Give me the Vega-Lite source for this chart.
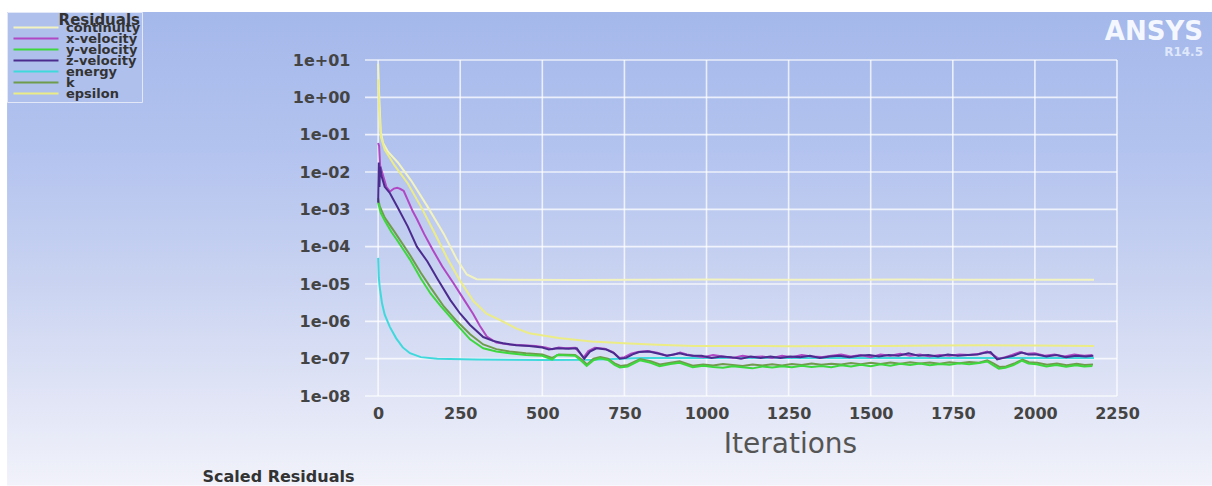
{
  "$schema": "https://vega.github.io/schema/vega-lite/v6.json",
  "width": 752,
  "height": 336,
  "autosize": {"type": "none"},
  "padding": {"left": 365, "top": 60, "right": 95, "bottom": 90},
  "background": "#ffffff",
  "title": {
    "text": "ANSYS",
    "subtitle": "R14.5",
    "anchor": "end",
    "frame": "group",
    "orient": "top",
    "dx": 86,
    "dy": 48,
    "offset": 2,
    "font": "DejaVu Sans",
    "fontSize": 26,
    "fontWeight": "bold",
    "color": "#f4f7ff",
    "subtitleFont": "DejaVu Sans",
    "subtitleFontSize": 12,
    "subtitleFontWeight": "bold",
    "subtitleColor": "#dfe7fb",
    "subtitlePadding": 2
  },
  "config": {"view": {"stroke": null}, "font": "DejaVu Sans"},
  "layer": [
    {
      "data": {"values": [{"band": "background"}]},
      "mark": {
        "type": "rect",
        "clip": false,
        "fill": {
          "gradient": "linear",
          "x1": 0, "y1": 0, "x2": 0, "y2": 1,
          "stops": [
            {"offset": 0, "color": "#a4b8ea"},
            {"offset": 0.29, "color": "#b3c3ef"},
            {"offset": 0.565, "color": "#c9d3f1"},
            {"offset": 0.82, "color": "#e1e5f6"},
            {"offset": 1, "color": "#f1f2fa"}
          ]
        }
      },
      "encoding": {
        "x": {"datum": -1130, "type": "quantitative", "scale": {"domain": [-40, 2250], "nice": false, "zero": false}},
        "x2": {"datum": 2640},
        "y": {"datum": 193, "type": "quantitative", "scale": {"type": "log", "domain": [1e-8, 10], "nice": false}},
        "y2": {"datum": 4e-11}
      }
    },
    {
      "data": {"values": [{"iter": 0}, {"iter": 250}, {"iter": 500}, {"iter": 750}, {"iter": 1000}, {"iter": 1250}, {"iter": 1500}, {"iter": 1750}, {"iter": 2000}, {"iter": 2250}]},
      "mark": {"type": "rule", "stroke": "#ffffff", "strokeWidth": 1.6, "opacity": 0.75},
      "encoding": {
        "x": {"field": "iter", "type": "quantitative", "scale": {"domain": [-40, 2250], "nice": false, "zero": false}}
      }
    },
    {
      "data": {"values": [{"res": 10}, {"res": 1}, {"res": 0.1}, {"res": 0.01}, {"res": 0.001}, {"res": 0.0001}, {"res": 1e-5}, {"res": 1e-6}, {"res": 1e-7}, {"res": 1e-8}]},
      "mark": {"type": "rule", "stroke": "#ffffff", "strokeWidth": 1.6, "opacity": 0.75},
      "encoding": {
        "y": {"field": "res", "type": "quantitative", "scale": {"type": "log", "domain": [1e-8, 10], "nice": false}}
      }
    },
    {
      "data": {"values": [
        {"series":"continuity","iter":0,"res":8},{"series":"continuity","iter":3,"res":1.2},{"series":"continuity","iter":8,"res":0.12},{"series":"continuity","iter":15,"res":0.06},{"series":"continuity","iter":30,"res":0.035},{"series":"continuity","iter":60,"res":0.018},{"series":"continuity","iter":100,"res":0.006},{"series":"continuity","iter":150,"res":0.0012},{"series":"continuity","iter":200,"res":0.00022},{"series":"continuity","iter":240,"res":4.5e-5},{"series":"continuity","iter":270,"res":1.8e-5},{"series":"continuity","iter":300,"res":1.35e-5},{"series":"continuity","iter":400,"res":1.3e-5},{"series":"continuity","iter":600,"res":1.28e-5},{"series":"continuity","iter":800,"res":1.3e-5},{"series":"continuity","iter":1000,"res":1.31e-5},{"series":"continuity","iter":1200,"res":1.29e-5},{"series":"continuity","iter":1400,"res":1.3e-5},{"series":"continuity","iter":1600,"res":1.31e-5},{"series":"continuity","iter":1800,"res":1.3e-5},{"series":"continuity","iter":2000,"res":1.29e-5},{"series":"continuity","iter":2180,"res":1.3e-5},

        {"series":"epsilon","iter":0,"res":3},{"series":"epsilon","iter":3,"res":0.5},{"series":"epsilon","iter":8,"res":0.09},{"series":"epsilon","iter":20,"res":0.04},{"series":"epsilon","iter":50,"res":0.015},{"series":"epsilon","iter":90,"res":0.005},{"series":"epsilon","iter":130,"res":0.0012},{"series":"epsilon","iter":170,"res":0.00025},{"series":"epsilon","iter":210,"res":5e-5},{"series":"epsilon","iter":250,"res":1.2e-5},{"series":"epsilon","iter":290,"res":3.5e-6},{"series":"epsilon","iter":330,"res":1.6e-6},{"series":"epsilon","iter":370,"res":1.1e-6},{"series":"epsilon","iter":420,"res":6.5e-7},{"series":"epsilon","iter":460,"res":4.8e-7},{"series":"epsilon","iter":550,"res":3.6e-7},{"series":"epsilon","iter":650,"res":2.9e-7},{"series":"epsilon","iter":750,"res":2.6e-7},{"series":"epsilon","iter":850,"res":2.35e-7},{"series":"epsilon","iter":960,"res":2.2e-7},{"series":"epsilon","iter":1100,"res":2.2e-7},{"series":"epsilon","iter":1250,"res":2.15e-7},{"series":"epsilon","iter":1400,"res":2.2e-7},{"series":"epsilon","iter":1550,"res":2.2e-7},{"series":"epsilon","iter":1700,"res":2.25e-7},{"series":"epsilon","iter":1850,"res":2.3e-7},{"series":"epsilon","iter":2000,"res":2.25e-7},{"series":"epsilon","iter":2180,"res":2.2e-7},

        {"series":"energy","iter":0,"res":5e-5},{"series":"energy","iter":2,"res":1.5e-5},{"series":"energy","iter":5,"res":8e-6},{"series":"energy","iter":12,"res":3e-6},{"series":"energy","iter":20,"res":1.5e-6},{"series":"energy","iter":36,"res":7e-7},{"series":"energy","iter":55,"res":3.5e-7},{"series":"energy","iter":75,"res":2e-7},{"series":"energy","iter":97,"res":1.4e-7},{"series":"energy","iter":130,"res":1.1e-7},{"series":"energy","iter":180,"res":1e-7},{"series":"energy","iter":300,"res":9.5e-8},{"series":"energy","iter":500,"res":9.2e-8},{"series":"energy","iter":650,"res":9.3e-8},{"series":"energy","iter":800,"res":1.05e-7},{"series":"energy","iter":1000,"res":1.05e-7},{"series":"energy","iter":1400,"res":1.05e-7},{"series":"energy","iter":1800,"res":1.05e-7},{"series":"energy","iter":2180,"res":1.05e-7},

        {"series":"k","iter":0,"res":0.002},{"series":"k","iter":5,"res":0.0012},{"series":"k","iter":20,"res":0.0006},{"series":"k","iter":50,"res":0.00025},{"series":"k","iter":97,"res":6e-5},{"series":"k","iter":130,"res":2e-5},{"series":"k","iter":160,"res":8e-6},{"series":"k","iter":200,"res":2.5e-6},{"series":"k","iter":240,"res":1e-6},{"series":"k","iter":280,"res":4.5e-7},{"series":"k","iter":320,"res":2.4e-7},{"series":"k","iter":360,"res":1.8e-7},{"series":"k","iter":400,"res":1.55e-7},{"series":"k","iter":450,"res":1.4e-7},{"series":"k","iter":500,"res":1.3e-7},{"series":"k","iter":530,"res":1.05e-7},{"series":"k","iter":550,"res":1.3e-7},{"series":"k","iter":600,"res":1.25e-7},{"series":"k","iter":620,"res":9.5e-8},{"series":"k","iter":636,"res":7e-8},{"series":"k","iter":656,"res":1e-7},{"series":"k","iter":676,"res":1.1e-7},{"series":"k","iter":700,"res":1e-7},{"series":"k","iter":720,"res":7.5e-8},{"series":"k","iter":738,"res":6.4e-8},{"series":"k","iter":760,"res":6.8e-8},{"series":"k","iter":798,"res":9.8e-8},{"series":"k","iter":830,"res":8.5e-8},{"series":"k","iter":858,"res":7e-8},{"series":"k","iter":890,"res":7.8e-8},{"series":"k","iter":918,"res":8.5e-8},{"series":"k","iter":958,"res":6.5e-8},{"series":"k","iter":990,"res":7e-8},{"series":"k","iter":1020,"res":6.6e-8},{"series":"k","iter":1050,"res":7.2e-8},{"series":"k","iter":1080,"res":6.8e-8},{"series":"k","iter":1110,"res":6.4e-8},{"series":"k","iter":1140,"res":7e-8},{"series":"k","iter":1170,"res":6.6e-8},{"series":"k","iter":1200,"res":7.1e-8},{"series":"k","iter":1230,"res":6.6e-8},{"series":"k","iter":1260,"res":7.2e-8},{"series":"k","iter":1290,"res":6.8e-8},{"series":"k","iter":1320,"res":7.4e-8},{"series":"k","iter":1350,"res":6.9e-8},{"series":"k","iter":1380,"res":7.3e-8},{"series":"k","iter":1410,"res":7e-8},{"series":"k","iter":1440,"res":7.6e-8},{"series":"k","iter":1470,"res":7.1e-8},{"series":"k","iter":1500,"res":7.8e-8},{"series":"k","iter":1530,"res":7.2e-8},{"series":"k","iter":1560,"res":7.9e-8},{"series":"k","iter":1590,"res":7.3e-8},{"series":"k","iter":1620,"res":8e-8},{"series":"k","iter":1650,"res":7.4e-8},{"series":"k","iter":1680,"res":7.9e-8},{"series":"k","iter":1710,"res":7.3e-8},{"series":"k","iter":1740,"res":8e-8},{"series":"k","iter":1770,"res":7.5e-8},{"series":"k","iter":1800,"res":8.1e-8},{"series":"k","iter":1830,"res":7.8e-8},{"series":"k","iter":1855,"res":9e-8},{"series":"k","iter":1872,"res":7.6e-8},{"series":"k","iter":1892,"res":6e-8},{"series":"k","iter":1912,"res":6.2e-8},{"series":"k","iter":1937,"res":7.4e-8},{"series":"k","iter":1962,"res":9.5e-8},{"series":"k","iter":1982,"res":8e-8},{"series":"k","iter":2007,"res":7.8e-8},{"series":"k","iter":2037,"res":6.9e-8},{"series":"k","iter":2067,"res":7.4e-8},{"series":"k","iter":2097,"res":6.7e-8},{"series":"k","iter":2127,"res":7.3e-8},{"series":"k","iter":2152,"res":6.8e-8},{"series":"k","iter":2177,"res":7e-8},

        {"series":"y-velocity","iter":0,"res":0.0015},{"series":"y-velocity","iter":3,"res":0.0012},{"series":"y-velocity","iter":8,"res":0.0008},{"series":"y-velocity","iter":20,"res":0.0005},{"series":"y-velocity","iter":40,"res":0.00025},{"series":"y-velocity","iter":60,"res":0.00014},{"series":"y-velocity","iter":97,"res":4.5e-5},{"series":"y-velocity","iter":130,"res":1.4e-5},{"series":"y-velocity","iter":160,"res":5.5e-6},{"series":"y-velocity","iter":190,"res":2.6e-6},{"series":"y-velocity","iter":220,"res":1.3e-6},{"series":"y-velocity","iter":250,"res":6.5e-7},{"series":"y-velocity","iter":280,"res":3.3e-7},{"series":"y-velocity","iter":320,"res":1.9e-7},{"series":"y-velocity","iter":360,"res":1.55e-7},{"series":"y-velocity","iter":400,"res":1.4e-7},{"series":"y-velocity","iter":450,"res":1.25e-7},{"series":"y-velocity","iter":500,"res":1.2e-7},{"series":"y-velocity","iter":530,"res":9.5e-8},{"series":"y-velocity","iter":545,"res":1.25e-7},{"series":"y-velocity","iter":600,"res":1.2e-7},{"series":"y-velocity","iter":620,"res":8.5e-8},{"series":"y-velocity","iter":635,"res":6.4e-8},{"series":"y-velocity","iter":655,"res":9e-8},{"series":"y-velocity","iter":675,"res":1.02e-7},{"series":"y-velocity","iter":700,"res":9.2e-8},{"series":"y-velocity","iter":720,"res":6.8e-8},{"series":"y-velocity","iter":736,"res":5.8e-8},{"series":"y-velocity","iter":760,"res":6.2e-8},{"series":"y-velocity","iter":797,"res":9e-8},{"series":"y-velocity","iter":830,"res":7.8e-8},{"series":"y-velocity","iter":857,"res":6.3e-8},{"series":"y-velocity","iter":890,"res":7.2e-8},{"series":"y-velocity","iter":918,"res":7.8e-8},{"series":"y-velocity","iter":958,"res":5.9e-8},{"series":"y-velocity","iter":990,"res":6.5e-8},{"series":"y-velocity","iter":1020,"res":6e-8},{"series":"y-velocity","iter":1050,"res":5.7e-8},{"series":"y-velocity","iter":1080,"res":6.3e-8},{"series":"y-velocity","iter":1110,"res":5.9e-8},{"series":"y-velocity","iter":1140,"res":5.5e-8},{"series":"y-velocity","iter":1170,"res":6.2e-8},{"series":"y-velocity","iter":1200,"res":5.8e-8},{"series":"y-velocity","iter":1230,"res":6.3e-8},{"series":"y-velocity","iter":1260,"res":5.9e-8},{"series":"y-velocity","iter":1290,"res":6.5e-8},{"series":"y-velocity","iter":1320,"res":6e-8},{"series":"y-velocity","iter":1350,"res":6.4e-8},{"series":"y-velocity","iter":1380,"res":5.9e-8},{"series":"y-velocity","iter":1410,"res":6.7e-8},{"series":"y-velocity","iter":1440,"res":6.2e-8},{"series":"y-velocity","iter":1470,"res":6.9e-8},{"series":"y-velocity","iter":1500,"res":6.3e-8},{"series":"y-velocity","iter":1530,"res":7.1e-8},{"series":"y-velocity","iter":1560,"res":6.5e-8},{"series":"y-velocity","iter":1590,"res":7.3e-8},{"series":"y-velocity","iter":1620,"res":6.8e-8},{"series":"y-velocity","iter":1650,"res":7.4e-8},{"series":"y-velocity","iter":1680,"res":6.7e-8},{"series":"y-velocity","iter":1710,"res":7.2e-8},{"series":"y-velocity","iter":1740,"res":6.9e-8},{"series":"y-velocity","iter":1770,"res":7.5e-8},{"series":"y-velocity","iter":1800,"res":7.1e-8},{"series":"y-velocity","iter":1830,"res":7.7e-8},{"series":"y-velocity","iter":1855,"res":8.4e-8},{"series":"y-velocity","iter":1870,"res":6.9e-8},{"series":"y-velocity","iter":1890,"res":5.4e-8},{"series":"y-velocity","iter":1910,"res":5.7e-8},{"series":"y-velocity","iter":1935,"res":6.7e-8},{"series":"y-velocity","iter":1960,"res":8.9e-8},{"series":"y-velocity","iter":1980,"res":7.4e-8},{"series":"y-velocity","iter":2005,"res":7.1e-8},{"series":"y-velocity","iter":2035,"res":6.2e-8},{"series":"y-velocity","iter":2065,"res":6.8e-8},{"series":"y-velocity","iter":2095,"res":6.1e-8},{"series":"y-velocity","iter":2125,"res":6.7e-8},{"series":"y-velocity","iter":2150,"res":6.2e-8},{"series":"y-velocity","iter":2175,"res":6.4e-8},

        {"series":"x-velocity","iter":0,"res":0.06},{"series":"x-velocity","iter":3,"res":0.05},{"series":"x-velocity","iter":6,"res":0.015},{"series":"x-velocity","iter":15,"res":0.008},{"series":"x-velocity","iter":25,"res":0.004},{"series":"x-velocity","iter":36,"res":0.003},{"series":"x-velocity","iter":48,"res":0.0036},{"series":"x-velocity","iter":58,"res":0.0038},{"series":"x-velocity","iter":68,"res":0.0035},{"series":"x-velocity","iter":78,"res":0.0031},{"series":"x-velocity","iter":90,"res":0.0018},{"series":"x-velocity","iter":105,"res":0.0009},{"series":"x-velocity","iter":118,"res":0.00055},{"series":"x-velocity","iter":140,"res":0.00022},{"series":"x-velocity","iter":167,"res":8e-5},{"series":"x-velocity","iter":195,"res":3e-5},{"series":"x-velocity","iter":228,"res":1.1e-5},{"series":"x-velocity","iter":260,"res":4e-6},{"series":"x-velocity","iter":289,"res":1.6e-6},{"series":"x-velocity","iter":310,"res":7.5e-7},{"series":"x-velocity","iter":331,"res":3.9e-7},{"series":"x-velocity","iter":360,"res":2.7e-7},{"series":"x-velocity","iter":400,"res":2.4e-7},{"series":"x-velocity","iter":440,"res":2.3e-7},{"series":"x-velocity","iter":480,"res":2.2e-7},{"series":"x-velocity","iter":510,"res":2e-7},{"series":"x-velocity","iter":530,"res":1.8e-7},{"series":"x-velocity","iter":550,"res":2e-7},{"series":"x-velocity","iter":570,"res":1.9e-7},{"series":"x-velocity","iter":600,"res":1.95e-7},{"series":"x-velocity","iter":615,"res":1.4e-7},{"series":"x-velocity","iter":625,"res":1.05e-7},{"series":"x-velocity","iter":640,"res":1.6e-7},{"series":"x-velocity","iter":660,"res":1.95e-7},{"series":"x-velocity","iter":690,"res":1.85e-7},{"series":"x-velocity","iter":715,"res":1.5e-7},{"series":"x-velocity","iter":735,"res":1.05e-7},{"series":"x-velocity","iter":750,"res":1.1e-7},{"series":"x-velocity","iter":770,"res":1.35e-7},{"series":"x-velocity","iter":790,"res":1.5e-7},{"series":"x-velocity","iter":820,"res":1.6e-7},{"series":"x-velocity","iter":850,"res":1.45e-7},{"series":"x-velocity","iter":880,"res":1.2e-7},{"series":"x-velocity","iter":900,"res":1.3e-7},{"series":"x-velocity","iter":920,"res":1.45e-7},{"series":"x-velocity","iter":940,"res":1.3e-7},{"series":"x-velocity","iter":960,"res":1.2e-7},{"series":"x-velocity","iter":990,"res":1.1e-7},{"series":"x-velocity","iter":1020,"res":1.25e-7},{"series":"x-velocity","iter":1050,"res":1.15e-7},{"series":"x-velocity","iter":1080,"res":1.05e-7},{"series":"x-velocity","iter":1110,"res":1.2e-7},{"series":"x-velocity","iter":1140,"res":1.1e-7},{"series":"x-velocity","iter":1170,"res":1.15e-7},{"series":"x-velocity","iter":1200,"res":1.05e-7},{"series":"x-velocity","iter":1230,"res":1.2e-7},{"series":"x-velocity","iter":1260,"res":1.1e-7},{"series":"x-velocity","iter":1290,"res":1.25e-7},{"series":"x-velocity","iter":1320,"res":1.15e-7},{"series":"x-velocity","iter":1350,"res":1.1e-7},{"series":"x-velocity","iter":1380,"res":1.2e-7},{"series":"x-velocity","iter":1410,"res":1.3e-7},{"series":"x-velocity","iter":1440,"res":1.15e-7},{"series":"x-velocity","iter":1470,"res":1.25e-7},{"series":"x-velocity","iter":1500,"res":1.1e-7},{"series":"x-velocity","iter":1530,"res":1.3e-7},{"series":"x-velocity","iter":1560,"res":1.2e-7},{"series":"x-velocity","iter":1590,"res":1.35e-7},{"series":"x-velocity","iter":1620,"res":1.2e-7},{"series":"x-velocity","iter":1650,"res":1.3e-7},{"series":"x-velocity","iter":1680,"res":1.15e-7},{"series":"x-velocity","iter":1710,"res":1.25e-7},{"series":"x-velocity","iter":1740,"res":1.2e-7},{"series":"x-velocity","iter":1770,"res":1.3e-7},{"series":"x-velocity","iter":1800,"res":1.25e-7},{"series":"x-velocity","iter":1830,"res":1.35e-7},{"series":"x-velocity","iter":1855,"res":1.55e-7},{"series":"x-velocity","iter":1870,"res":1.3e-7},{"series":"x-velocity","iter":1890,"res":1e-7},{"series":"x-velocity","iter":1910,"res":1.1e-7},{"series":"x-velocity","iter":1930,"res":1.25e-7},{"series":"x-velocity","iter":1955,"res":1.5e-7},{"series":"x-velocity","iter":1975,"res":1.35e-7},{"series":"x-velocity","iter":2000,"res":1.4e-7},{"series":"x-velocity","iter":2030,"res":1.2e-7},{"series":"x-velocity","iter":2060,"res":1.3e-7},{"series":"x-velocity","iter":2090,"res":1.15e-7},{"series":"x-velocity","iter":2120,"res":1.3e-7},{"series":"x-velocity","iter":2150,"res":1.2e-7},{"series":"x-velocity","iter":2175,"res":1.25e-7},

        {"series":"z-velocity","iter":0,"res":0.0015},{"series":"z-velocity","iter":2,"res":0.018},{"series":"z-velocity","iter":4,"res":0.004},{"series":"z-velocity","iter":6,"res":0.014},{"series":"z-velocity","iter":10,"res":0.008},{"series":"z-velocity","iter":20,"res":0.004},{"series":"z-velocity","iter":36,"res":0.0027},{"series":"z-velocity","iter":60,"res":0.0011},{"series":"z-velocity","iter":90,"res":0.00035},{"series":"z-velocity","iter":118,"res":0.0001},{"series":"z-velocity","iter":150,"res":4e-5},{"series":"z-velocity","iter":180,"res":1.4e-5},{"series":"z-velocity","iter":220,"res":3.7e-6},{"series":"z-velocity","iter":250,"res":1.6e-6},{"series":"z-velocity","iter":280,"res":8e-7},{"series":"z-velocity","iter":320,"res":3.8e-7},{"series":"z-velocity","iter":350,"res":3e-7},{"series":"z-velocity","iter":380,"res":2.6e-7},{"series":"z-velocity","iter":420,"res":2.3e-7},{"series":"z-velocity","iter":460,"res":2.2e-7},{"series":"z-velocity","iter":500,"res":2e-7},{"series":"z-velocity","iter":520,"res":1.75e-7},{"series":"z-velocity","iter":545,"res":1.9e-7},{"series":"z-velocity","iter":580,"res":1.85e-7},{"series":"z-velocity","iter":605,"res":1.9e-7},{"series":"z-velocity","iter":618,"res":1.3e-7},{"series":"z-velocity","iter":628,"res":1e-7},{"series":"z-velocity","iter":645,"res":1.55e-7},{"series":"z-velocity","iter":665,"res":1.9e-7},{"series":"z-velocity","iter":695,"res":1.75e-7},{"series":"z-velocity","iter":718,"res":1.4e-7},{"series":"z-velocity","iter":736,"res":1e-7},{"series":"z-velocity","iter":755,"res":1.05e-7},{"series":"z-velocity","iter":775,"res":1.3e-7},{"series":"z-velocity","iter":795,"res":1.5e-7},{"series":"z-velocity","iter":825,"res":1.55e-7},{"series":"z-velocity","iter":855,"res":1.35e-7},{"series":"z-velocity","iter":879,"res":1.2e-7},{"series":"z-velocity","iter":900,"res":1.3e-7},{"series":"z-velocity","iter":918,"res":1.4e-7},{"series":"z-velocity","iter":940,"res":1.25e-7},{"series":"z-velocity","iter":958,"res":1.2e-7},{"series":"z-velocity","iter":985,"res":1.2e-7},{"series":"z-velocity","iter":1015,"res":1.05e-7},{"series":"z-velocity","iter":1045,"res":1.15e-7},{"series":"z-velocity","iter":1075,"res":1.1e-7},{"series":"z-velocity","iter":1105,"res":1e-7},{"series":"z-velocity","iter":1135,"res":1.15e-7},{"series":"z-velocity","iter":1165,"res":1.05e-7},{"series":"z-velocity","iter":1195,"res":1.15e-7},{"series":"z-velocity","iter":1225,"res":1.05e-7},{"series":"z-velocity","iter":1255,"res":1.15e-7},{"series":"z-velocity","iter":1285,"res":1.1e-7},{"series":"z-velocity","iter":1315,"res":1.2e-7},{"series":"z-velocity","iter":1345,"res":1.05e-7},{"series":"z-velocity","iter":1375,"res":1.15e-7},{"series":"z-velocity","iter":1405,"res":1.2e-7},{"series":"z-velocity","iter":1435,"res":1.1e-7},{"series":"z-velocity","iter":1465,"res":1.2e-7},{"series":"z-velocity","iter":1495,"res":1.25e-7},{"series":"z-velocity","iter":1525,"res":1.15e-7},{"series":"z-velocity","iter":1555,"res":1.25e-7},{"series":"z-velocity","iter":1585,"res":1.2e-7},{"series":"z-velocity","iter":1615,"res":1.4e-7},{"series":"z-velocity","iter":1645,"res":1.2e-7},{"series":"z-velocity","iter":1675,"res":1.25e-7},{"series":"z-velocity","iter":1705,"res":1.15e-7},{"series":"z-velocity","iter":1735,"res":1.3e-7},{"series":"z-velocity","iter":1765,"res":1.2e-7},{"series":"z-velocity","iter":1795,"res":1.25e-7},{"series":"z-velocity","iter":1825,"res":1.3e-7},{"series":"z-velocity","iter":1850,"res":1.45e-7},{"series":"z-velocity","iter":1865,"res":1.5e-7},{"series":"z-velocity","iter":1885,"res":9.5e-8},{"series":"z-velocity","iter":1905,"res":1.05e-7},{"series":"z-velocity","iter":1935,"res":1.2e-7},{"series":"z-velocity","iter":1960,"res":1.45e-7},{"series":"z-velocity","iter":1980,"res":1.3e-7},{"series":"z-velocity","iter":2005,"res":1.3e-7},{"series":"z-velocity","iter":2035,"res":1.15e-7},{"series":"z-velocity","iter":2065,"res":1.25e-7},{"series":"z-velocity","iter":2095,"res":1.1e-7},{"series":"z-velocity","iter":2125,"res":1.2e-7},{"series":"z-velocity","iter":2155,"res":1.15e-7},{"series":"z-velocity","iter":2178,"res":1.2e-7}
      ]},
      "mark": {"type": "line", "strokeWidth": 2, "interpolate": "linear"},
      "encoding": {
        "x": {
          "field": "iter", "type": "quantitative",
          "scale": {"domain": [-40, 2250], "nice": false, "zero": false},
          "axis": {
            "title": "Iterations",
            "zindex": 1,
            "format": "d",
            "values": [0, 250, 500, 750, 1000, 1250, 1500, 1750, 2000, 2250],
            "grid": false, "domain": false, "ticks": false,
            "labelFont": "DejaVu Sans", "labelFontSize": 16, "labelFontWeight": "bold", "labelColor": "#444444",
            "labelPadding": 9, "labelFlush": false, "labelOverlap": false,
            "titleFont": "DejaVu Sans", "titleFontSize": 28, "titleFontWeight": "normal", "titleColor": "#555555",
            "titleX": 425, "titleY": 56, "titleAlign": "center", "titleBaseline": "alphabetic"
          }
        },
        "y": {
          "field": "res", "type": "quantitative",
          "scale": {"type": "log", "domain": [1e-8, 10], "nice": false},
          "axis": {
            "title": "Scaled Residuals",
            "zindex": 1,
            "values": [10, 1, 0.1, 0.01, 0.001, 0.0001, 1e-5, 1e-6, 1e-7, 1e-8],
            "labelExpr": "'1e' + (datum.value >= 1 ? '+' : '-') + '0' + abs(round(log(datum.value) / LN10))",
            "grid": false, "domain": false, "ticks": false,
            "labelFont": "DejaVu Sans", "labelFontSize": 16, "labelFontWeight": "bold", "labelColor": "#444444",
            "labelPadding": 15, "labelFlush": false, "labelOverlap": false,
            "titleFont": "DejaVu Sans", "titleFontSize": 16, "titleFontWeight": "bold", "titleColor": "#333333",
            "titleAngle": 0, "titleX": -163, "titleY": 421, "titleAlign": "left", "titleBaseline": "alphabetic"
          }
        },
        "color": {
          "field": "series", "type": "nominal",
          "scale": {
            "domain": ["continuity", "x-velocity", "y-velocity", "z-velocity", "energy", "k", "epsilon"],
            "range": ["#f3f3bf", "#b048c4", "#3ed83e", "#4b2c8e", "#3fd9dc", "#6f9c4c", "#ecec86"]
          },
          "legend": {
            "title": "Residuals",
            "orient": "none", "legendX": -358, "legendY": -48,
            "symbolType": "M-1,0H44", "symbolSize": 4, "symbolStrokeWidth": 2,
            "labelFont": "DejaVu Sans", "labelFontSize": 13, "labelFontWeight": "bold", "labelColor": "#333333",
            "labelOffset": 45, "labelLimit": 300,
            "titleFont": "DejaVu Sans", "titleFontSize": 15, "titleFontWeight": "bold", "titleColor": "#333333",
            "titleAnchor": "end",
            "clipHeight": 7,
            "titlePadding": -4, "rowPadding": -35, "padding": 1,
            "fillColor": "#afc0ec", "strokeColor": "#e2e8f7"
          }
        }
      }
    }
  ]
}
